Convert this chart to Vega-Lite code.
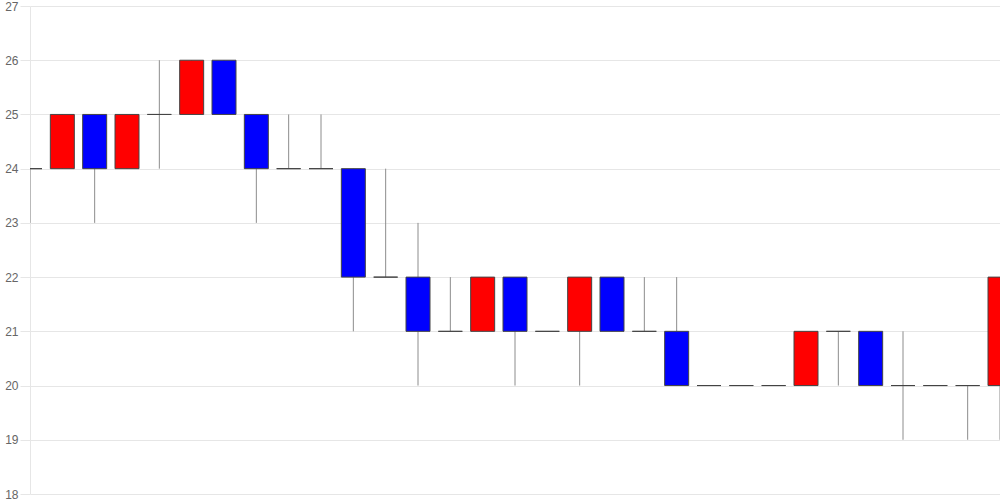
{
  "$schema": "https://vega.github.io/schema/vega-lite/v6.json",
  "autosize": "none",
  "width": 970,
  "height": 488,
  "padding": {"left": 30, "top": 6, "right": 0, "bottom": 6},
  "background": "white",
  "config": {"view": {"stroke": null}},
  "data": {"values": [
    {"i": 0, "open": 24, "close": 24, "high": 24, "low": 23},
    {"i": 1, "open": 24, "close": 25, "high": 25, "low": 24},
    {"i": 2, "open": 25, "close": 24, "high": 25, "low": 23},
    {"i": 3, "open": 24, "close": 25, "high": 25, "low": 24},
    {"i": 4, "open": 25, "close": 25, "high": 26, "low": 24},
    {"i": 5, "open": 25, "close": 26, "high": 26, "low": 25},
    {"i": 6, "open": 26, "close": 25, "high": 26, "low": 25},
    {"i": 7, "open": 25, "close": 24, "high": 25, "low": 23},
    {"i": 8, "open": 24, "close": 24, "high": 25, "low": 24},
    {"i": 9, "open": 24, "close": 24, "high": 25, "low": 24},
    {"i": 10, "open": 24, "close": 22, "high": 24, "low": 21},
    {"i": 11, "open": 22, "close": 22, "high": 24, "low": 22},
    {"i": 12, "open": 22, "close": 21, "high": 23, "low": 20},
    {"i": 13, "open": 21, "close": 21, "high": 22, "low": 21},
    {"i": 14, "open": 21, "close": 22, "high": 22, "low": 21},
    {"i": 15, "open": 22, "close": 21, "high": 22, "low": 20},
    {"i": 16, "open": 21, "close": 21, "high": 21, "low": 21},
    {"i": 17, "open": 21, "close": 22, "high": 22, "low": 20},
    {"i": 18, "open": 22, "close": 21, "high": 22, "low": 21},
    {"i": 19, "open": 21, "close": 21, "high": 22, "low": 21},
    {"i": 20, "open": 21, "close": 20, "high": 22, "low": 20},
    {"i": 21, "open": 20, "close": 20, "high": 20, "low": 20},
    {"i": 22, "open": 20, "close": 20, "high": 20, "low": 20},
    {"i": 23, "open": 20, "close": 20, "high": 20, "low": 20},
    {"i": 24, "open": 20, "close": 21, "high": 21, "low": 20},
    {"i": 25, "open": 21, "close": 21, "high": 21, "low": 20},
    {"i": 26, "open": 21, "close": 20, "high": 21, "low": 20},
    {"i": 27, "open": 20, "close": 20, "high": 21, "low": 19},
    {"i": 28, "open": 20, "close": 20, "high": 20, "low": 20},
    {"i": 29, "open": 20, "close": 20, "high": 20, "low": 19},
    {"i": 30, "open": 20, "close": 22, "high": 22, "low": 19}
  ]},
  "encoding": {
    "x": {"field": "i", "type": "quantitative", "scale": {"domain": [0, 30], "nice": false, "zero": false, "padding": 0}, "axis": null}
  },
  "layer": [
    {
      "mark": {"type": "rule", "color": "#8c8c8c", "strokeWidth": 1, "clip": true},
      "encoding": {
        "y": {"field": "low", "type": "quantitative",
          "scale": {"domain": [18, 27], "nice": false, "zero": false},
          "axis": {"values": [18, 19, 20, 21, 22, 23, 24, 25, 26, 27], "format": "d", "title": null,
            "grid": true, "gridColor": "#e6e6e6", "gridWidth": 1,
            "domain": true, "domainColor": "#e6e6e6",
            "ticks": true, "tickSize": 10, "tickColor": "#e6e6e6",
            "labelPadding": 2, "labelColor": "#666666", "labelFont": "Liberation Sans", "labelFontSize": 12,
            "labelFlush": false}},
        "y2": {"field": "high"}
      }
    },
    {
      "mark": {"type": "bar", "size": 24, "stroke": "#444444", "strokeWidth": 1, "clip": true},
      "encoding": {
        "y": {"field": "open", "type": "quantitative"},
        "y2": {"field": "close"},
        "fill": {"condition": {"test": "datum.close > datum.open", "value": "#ff0000"}, "value": "#0000ff"}
      }
    }
  ]
}
